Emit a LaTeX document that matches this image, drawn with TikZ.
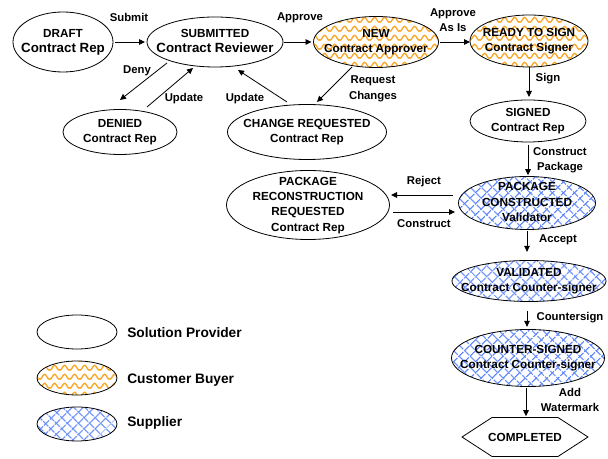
\documentclass[tikz,border=0pt]{standalone}
\usepackage{fontspec}
\setmainfont{Liberation Sans}
\usetikzlibrary{shapes.geometric,arrows.meta,patterns.meta}

\definecolor{wavecol}{RGB}{250,168,40}
\definecolor{hatchcol}{RGB}{95,135,250}

% orange wavy fill used for the customer-buyer states
\pgfdeclarepattern{
  name=waves,
  type=colored,
  bottom left={\pgfpoint{0pt}{0pt}},
  top right={\pgfpoint{7.5pt}{6.5pt}},
  tile size={\pgfpoint{7.5pt}{6.5pt}},
  code={
    \pgfsetstrokecolor{wavecol}
    \pgfsetlinewidth{1.1pt}
    \pgfpathmoveto{\pgfpoint{0pt}{1.35pt}}
    \pgfpathcosine{\pgfpoint{1.875pt}{1.9pt}}
    \pgfpathsine{\pgfpoint{1.875pt}{1.9pt}}
    \pgfpathcosine{\pgfpoint{1.875pt}{-1.9pt}}
    \pgfpathsine{\pgfpoint{1.875pt}{-1.9pt}}
    \pgfusepath{stroke}
  }
}

\newcommand\stfont{\fontsize{8.8}{11.5}\selectfont\bfseries}
\newcommand\edgefont{\fontsize{8.5}{11.6}\selectfont\bfseries}
\newcommand\keyfont{\fontsize{10.3}{12}\selectfont\bfseries}
\newcommand\bigline[1]{{\fontsize{10}{11.5}\selectfont #1}}
% zero-size, vertically centred block of lines: the ellipse size comes only from the style
\newcommand\stlines[1]{\smash{\makebox[0pt]{\raisebox{\dimexpr(\depth-\height)/2\relax}{\begin{tabular}{@{}c@{}}#1\end{tabular}}}}}

\tikzset{
  stnode/.style 2 args={ellipse, draw, line width=0.6pt, inner sep=0pt, outer sep=0pt,
    minimum width=#1, minimum height=#2, font=\stfont},
  buyer/.style={pattern=waves},
  supplier/.style={
    preaction={pattern={Lines[angle=-45,distance=6.4pt,line width=1pt]}, pattern color=hatchcol},
    pattern={Lines[angle=45,distance=6.4pt,line width=1pt]}, pattern color=hatchcol},
  arr/.style={-{Triangle[length=4.5pt,width=4.2pt]}, line width=0.6pt},
  lbl/.style={font=\edgefont, align=center, inner sep=0pt},
  keytext/.style={font=\keyfont, anchor=west, inner sep=0pt},
}

\begin{document}
\begin{tikzpicture}[x=0.75pt,y=-0.75pt]
\fill[white] (0,0) rectangle (608,459);
\useasboundingbox (0,0) rectangle (608,459);

% states
\node[stnode={75pt}{45pt}] (draft) at (63,42) {\stlines{DRAFT\\\bigline{Contract Rep}}};
\node[stnode={102pt}{37.5pt}] (sub) at (215,42) {\stlines{SUBMITTED\\\bigline{Contract Reviewer}}};
\node[stnode={93.75pt}{38.25pt},buyer] (new) at (376,42) {\stlines{NEW\\Contract Approver}};
\node[stnode={88.5pt}{39pt},buyer] (ready) at (529,41) {\stlines{READY TO SIGN\\Contract Signer}};
\node[stnode={87pt}{31.5pt}] (signed) at (528,121) {\stlines{SIGNED\\Contract Rep}};
\node[stnode={85.5pt}{33.75pt}] (denied) at (120,132) {\stlines{DENIED\\Contract Rep}};
\node[stnode={119.25pt}{41.25pt}] (chg) at (307,132) {\stlines{CHANGE REQUESTED\\Contract Rep}};
\node[stnode={122.25pt}{51.75pt}] (prc) at (308,205) {\stlines{PACKAGE\\RECONSTRUCTION\\REQUESTED\\Contract Rep}};
\node[stnode={102.75pt}{39.75pt},supplier] (pc) at (527,203) {\stlines{PACKAGE\\CONSTRUCTED\\Validator}};
\node[stnode={115.5pt}{30.75pt},supplier] (val) at (529,281) {\stlines{VALIDATED\\Contract Counter-signer}};
\node[stnode={114.75pt}{42.75pt},supplier] (cs) at (528,358) {\stlines{COUNTER-SIGNED\\Contract Counter-signer}};
\node[rectangle, inner sep=0pt, outer sep=0pt, minimum width=94.5pt, minimum height=29.25pt, font=\stfont] (done) at (525,437) {COMPLETED};
\draw[line width=0.6pt] (done.west) -- ([xshift=22.5pt]done.north west) -- ([xshift=-22.5pt]done.north east)
  -- (done.east) -- ([xshift=-22.5pt]done.south east) -- ([xshift=22.5pt]done.south west) -- cycle;

% transitions
\draw[arr, shorten <=1.5pt, shorten >=1.5pt] (draft.east) -- (sub.west);
\draw[arr, shorten <=0.5pt, shorten >=1.5pt] (sub.east) -- (new.west);
\draw[arr, shorten <=1pt] (new.east) -- (new.east -| ready.west);
\draw[arr, shorten >=2.25pt] (ready.south) -- (ready.south |- signed.north);
\draw[arr, shorten <=2pt, shorten >=1pt] (signed.south) -- (signed.south |- pc.north);
\draw[arr, shorten <=1pt, shorten >=6.5pt] (pc.south) -- (pc.south |- val.north);
\draw[arr, shorten <=7pt, shorten >=2pt] ([xshift=-1.5pt]val.south) -- ([xshift=-1.5pt]val.south |- cs.north);
\draw[arr, shorten <=1pt, shorten >=1pt] ([xshift=-1.5pt]cs.south) -- ([xshift=-1.5pt]cs.south |- done.north);
\draw[arr] ([shift={(-48,21)}]sub.center) -- ([shift={(0,-32)}]denied.center);
\draw[arr] ([shift={(27,-25)}]denied.center) -- ([shift={(-22,26)}]sub.center);
\draw[arr] ([shift={(-20,-30)}]chg.center) -- ([shift={(23,28)}]sub.center);
\draw[arr] ([shift={(-24,25)}]new.center) -- ([shift={(10,-30)}]chg.center);
\draw[arr] ([shift={(-74,-8)}]pc.center) -- ([shift={(83,-10)}]prc.center);
\draw[arr] ([shift={(85,7)}]prc.center) -- ([shift={(-72,9)}]pc.center);

% transition labels
\node[lbl] (l-submit) at (129,17) {Submit};
\node[lbl] (l-approve) at (300,18) {Approve};
\node[lbl] (l-asis) at (453,20) {Approve\\As Is};
\node[lbl] (l-sign) at (548,79) {Sign};
\node[lbl] (l-req) at (373,89) {Request\\Changes};
\node[lbl] (l-deny) at (137,71) {Deny};
\node[lbl] (l-upd1) at (184,99) {Update};
\node[lbl] (l-upd2) at (245,99) {Update};
\node[lbl] (l-cpkg) at (560,160) {Construct\\Package};
\node[lbl] (l-reject) at (424,182) {Reject};
\node[lbl] (l-construct) at (424,224) {Construct};
\node[lbl] (l-accept) at (558,240) {Accept};
\node[lbl] (l-csign) at (570,318) {Countersign};
\node[lbl] (l-wm) at (570,400) {Add\\Watermark};

% key
\node[stnode={60pt}{25.5pt}] (key1) at (77,332) {};
\node[stnode={60pt}{25.5pt},buyer] (key2) at (77,378) {};
\node[stnode={60pt}{25.5pt},supplier] (key3) at (77,424) {};
\node[keytext] (key1-t) at (127,333) {Solution Provider};
\node[keytext] (key2-t) at (127,380) {Customer Buyer};
\node[keytext] (key3-t) at (127,423) {Supplier};
\end{tikzpicture}
\end{document}
